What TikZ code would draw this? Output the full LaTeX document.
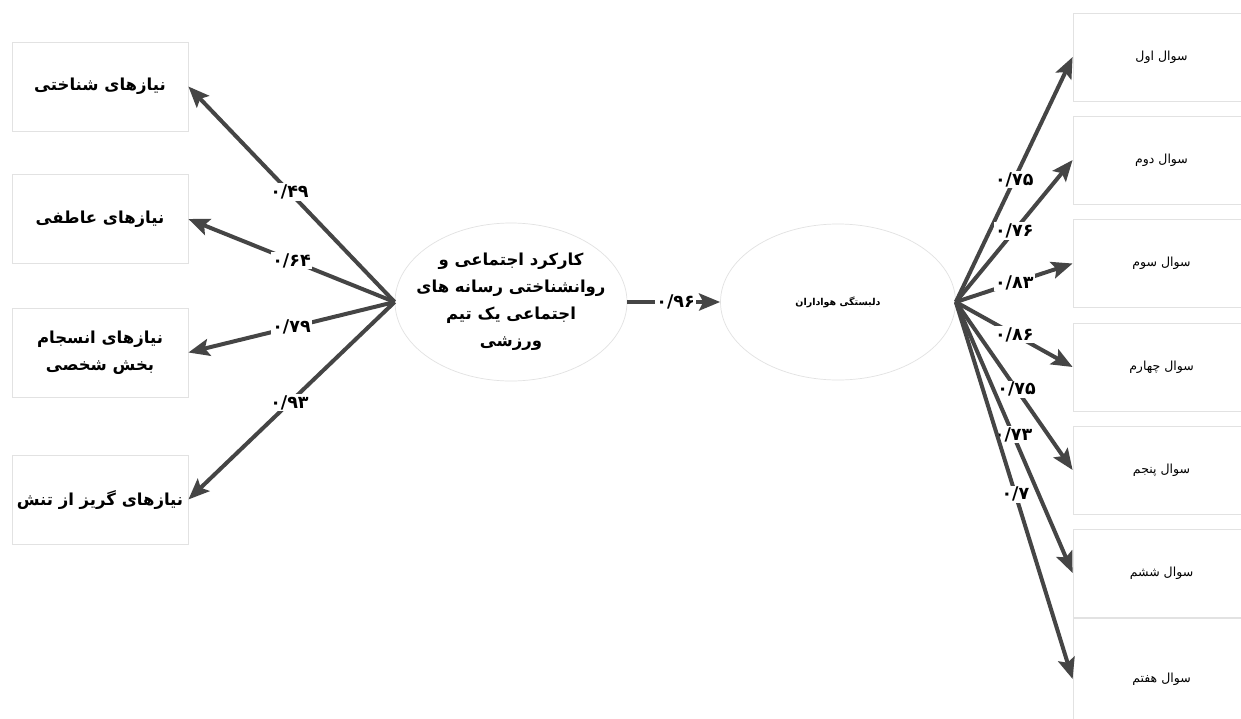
\documentclass[tikz,border=0pt]{standalone}
\usepackage{fontspec}
\usetikzlibrary{arrows.meta,shapes.geometric}
\TeXXeTstate=1
\newfontfamily\fa[Script=Arabic]{DejaVu Sans}
\definecolor{arrcol}{HTML}{454545}
\definecolor{edgecol}{HTML}{E2E2E2}
\tikzset{
  lbox/.style={draw=edgecol, line width=0.8pt, minimum width=176pt, minimum height=89pt, inner sep=0pt,
    font=\fa\bfseries\fontsize{16.5}{27}\selectfont, align=center},
  rbox/.style={draw=edgecol, line width=0.8pt, minimum width=177pt, minimum height=88pt, inner sep=0pt,
    font=\fa\fontsize{12.5}{14}\selectfont},
  ell/.style={ellipse, draw=edgecol, line width=0.7pt, inner sep=0pt},
  arr/.style={draw=arrcol, line width=4pt, -{Stealth[length=21pt,width=17pt,inset=4pt]}},
  lab/.style={fill=white, inner sep=1.5pt, font=\fa\bfseries\fontsize{17.5}{17.5}\selectfont, text=black}
}
\begin{document}
\begin{tikzpicture}[x=1pt,y=-1pt]
\useasboundingbox[fill=white] (0,0) rectangle (1241,718);
% left boxes
\node[lbox] (n1) at (100,86.5) {\beginR نیازهای شناختی\endR};
\node[lbox] (n2) at (100,219) {\beginR نیازهای عاطفی\endR};
\node[lbox] (n3) at (100,352.5) {\beginR نیازهای انسجام\endR\\\beginR بخش شخصی\endR};
\node[lbox] (n4) at (100,499.5) {\beginR نیازهای گریز از تنش\endR};
% ellipses
\node[ell, minimum width=232pt, minimum height=158pt,
  label={[font=\fa\bfseries\fontsize{16.5}{27}\selectfont, align=center]center:{\beginR کارکرد اجتماعی و\endR\\\beginR روانشناختی رسانه های\endR\\\beginR اجتماعی یک تیم\endR\\\beginR ورزشی\endR}}] (e1) at (511,302) {};
\node[ell, minimum width=235pt, minimum height=156pt,
  label={[font=\fa\bfseries\fontsize{9.5}{12}\selectfont]center:{\beginR دلبستگی هواداران\endR}}] (e2) at (838,302) {};
% right boxes
\node[rbox] (q1) at (1161.5,57) {\beginR سوال اول\endR};
\node[rbox] (q2) at (1161.5,160) {\beginR سوال دوم\endR};
\node[rbox] (q3) at (1161.5,263.5) {\beginR سوال سوم\endR};
\node[rbox] (q4) at (1161.5,367) {\beginR سوال چهارم\endR};
\node[rbox] (q5) at (1161.5,470) {\beginR سوال پنجم\endR};
\node[rbox] (q6) at (1161.5,573) {\beginR سوال ششم\endR};
\node[rbox, minimum height=122pt] (q7) at (1161.5,679) {\beginR سوال هفتم\endR};
% left arrows
\draw[arr] (e1.west) -- node[lab, pos=0.51]{۰/۴۹} (n1.east);
\draw[arr] (e1.west) -- node[lab, pos=0.5]{۰/۶۴} (n2.east);
\draw[arr] (e1.west) -- node[lab, pos=0.5]{۰/۷۹} (n3.east);
\draw[arr] (e1.west) -- node[lab, pos=0.51]{۰/۹۳} (n4.east);
% middle
\draw[arr] (e1.east) -- node[lab, pos=0.52]{۰/۹۶} (e2.west);
% right arrows
\draw[arr] (e2.east) -- node[lab, pos=0.5]{۰/۷۵} (q1.west);
\draw[arr] (e2.east) -- node[lab, pos=0.5]{۰/۷۶} (q2.west);
\draw[arr] (e2.east) -- node[lab, pos=0.5]{۰/۸۳} (q3.west);
\draw[arr] (e2.east) -- node[lab, pos=0.5]{۰/۸۶} (q4.west);
\draw[arr] (e2.east) -- node[lab, pos=0.52]{۰/۷۵} (q5.west);
\draw[arr] (e2.east) -- node[lab, pos=0.49]{۰/۷۳} (q6.west);
\draw[arr] (e2.east) -- node[lab, pos=0.51]{۰/۷} (q7.west);
\end{tikzpicture}
\end{document}
